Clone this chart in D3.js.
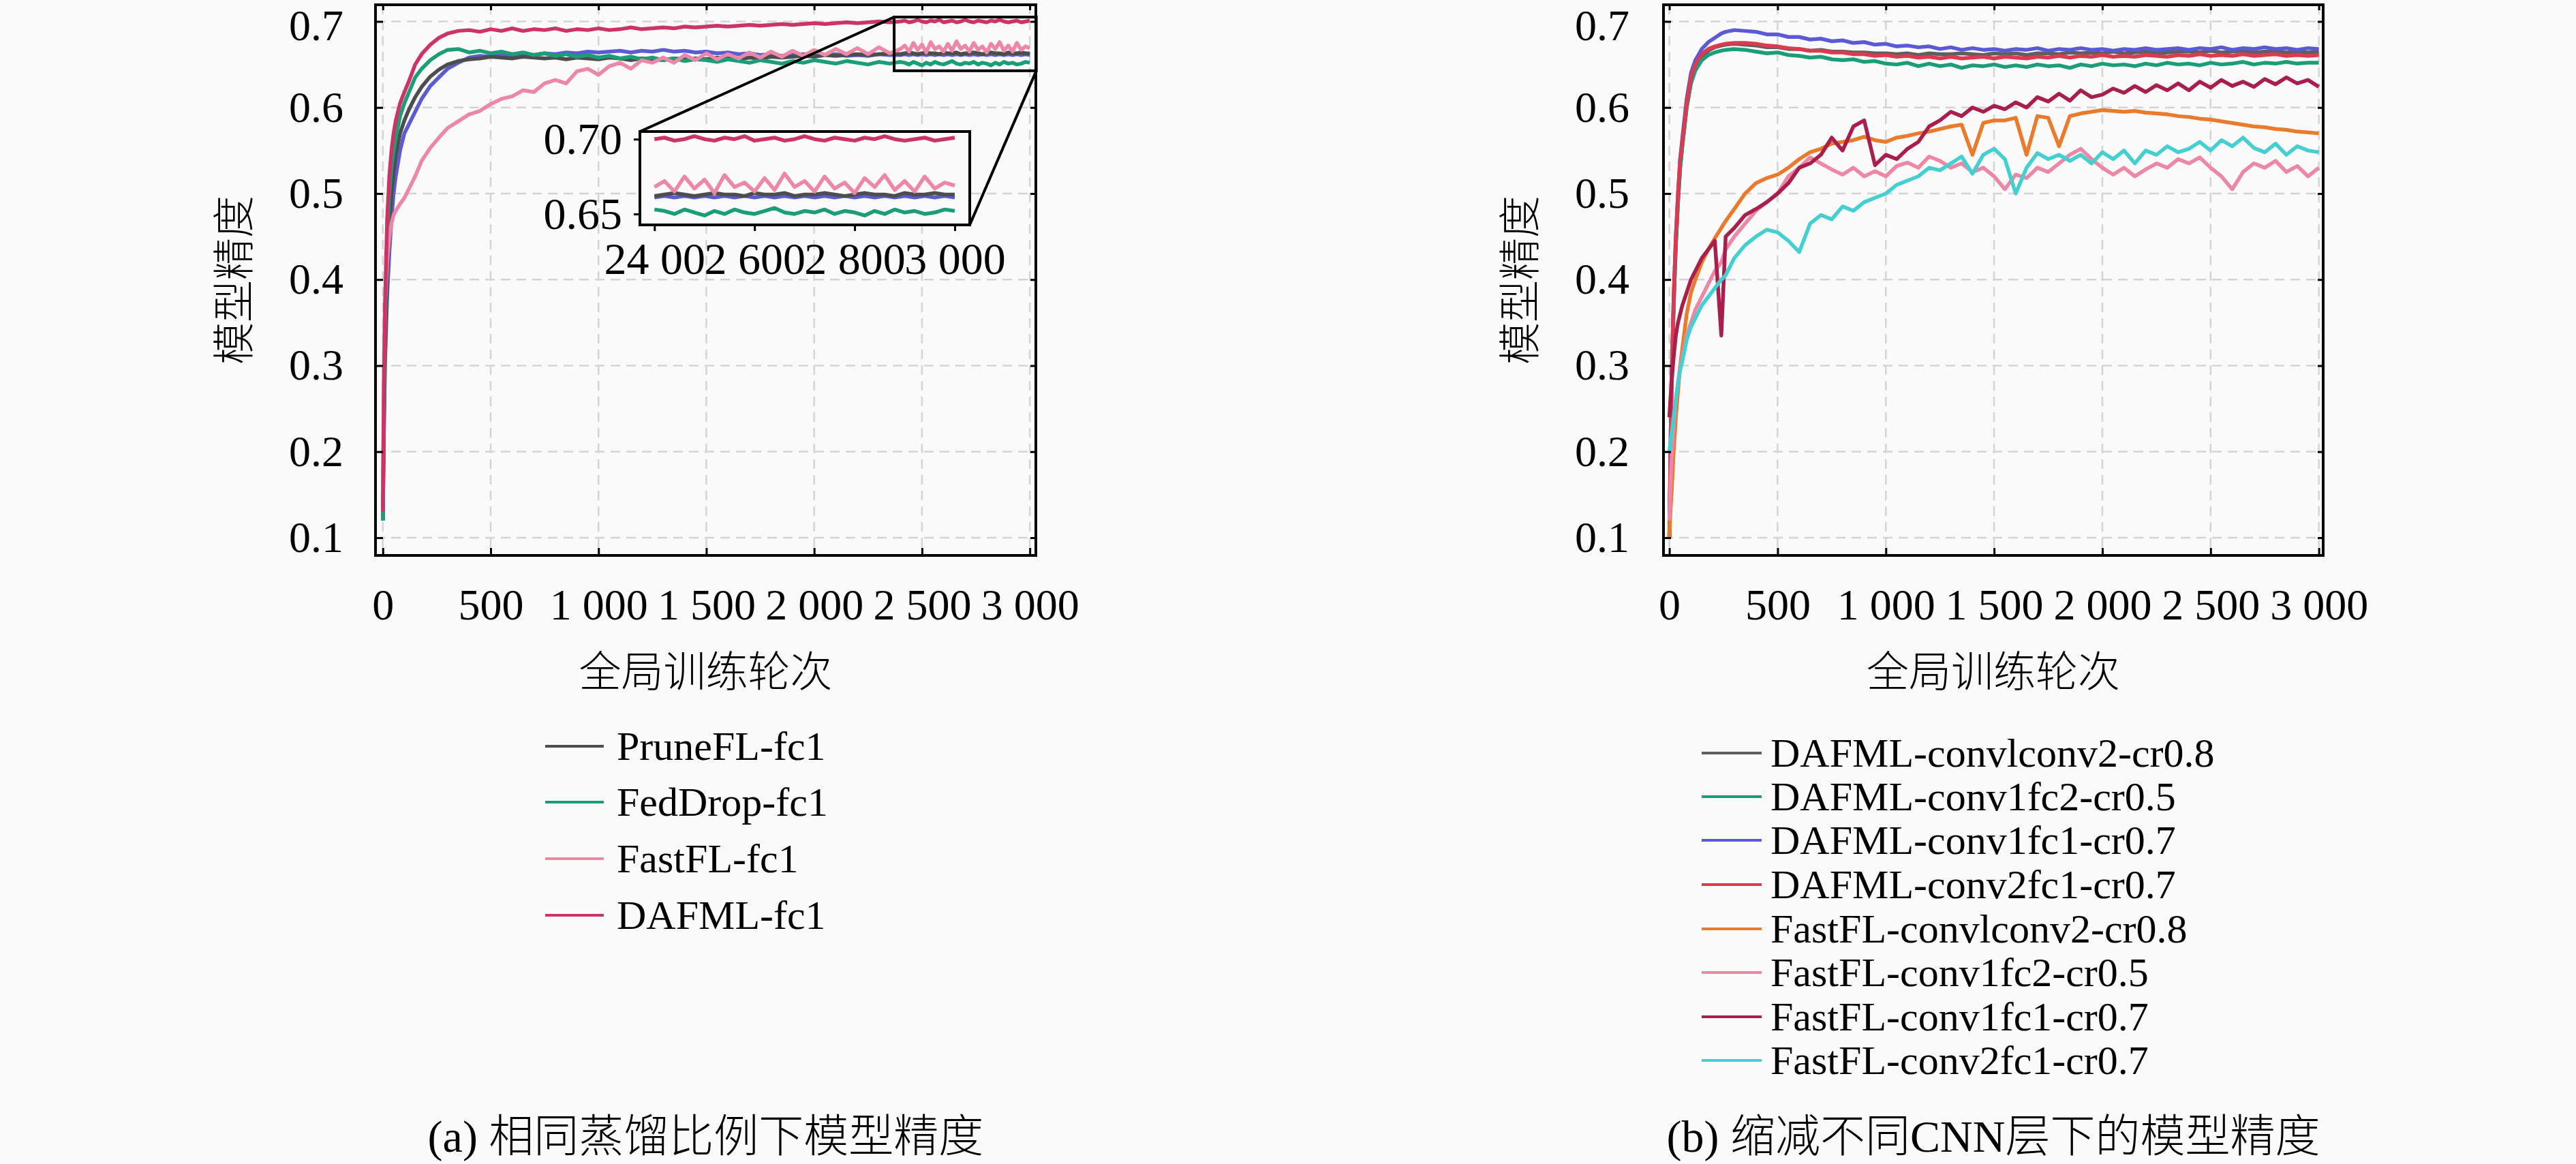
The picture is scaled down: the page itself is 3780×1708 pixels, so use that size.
<!DOCTYPE html>
<html>
<head>
<meta charset="utf-8">
<script src="https://cdn.jsdelivr.net/npm/d3@7"></script>
<style>
  body { margin: 0; background: #fafafa; }
  text { font-family: "Liberation Serif", "Noto Sans CJK SC", serif; fill: #000; }
  .cjk { font-weight: 300; }
  .grid { stroke: #d4d4d4; stroke-width: 2.5; stroke-dasharray: 14 9; }
  .series { fill: none; stroke-width: 5.5; stroke-linejoin: round; }
</style>
</head>
<body>
<svg id="chart" width="3780" height="1708"></svg>
<script>
// ---------- shared ticks ----------
const xTicks = [0, 500, 1000, 1500, 2000, 2500, 3000];
const xTickLabels = ["0", "500", "1 000", "1 500", "2 000", "2 500", "3 000"];
const yTicks = [0.1, 0.2, 0.3, 0.4, 0.5, 0.6, 0.7];
const yTickLabels = ["0.1", "0.2", "0.3", "0.4", "0.5", "0.6", "0.7"];
const insetXTicks = [2400, 2600, 2800, 3000];
const insetXTickLabels = ["24 00", "2 600", "2 800", "3 000"];
const insetYTicks = [0.65, 0.70];
const insetYTickLabels = ["0.65", "0.70"];

// ---------- panel (a): same distillation ratio ----------
const roundsA = [0,5,10,20,30,40,50,60,80,100,120,150,180,220,260,300,350,
  400,450,500,550,600,650,700,750,800,850,900,950,1000,1050,1100,1150,1200,1250,1300,1350,
  1400,1450,1500,1550,1600,1650,1700,1750,1800,1850,1900,1950,2000,2050,2100,2150,2200,2250,2300,2350,2400,
  2420,2440,2460,2480,2500,2520,2540,2560,2580,2600,2620,2640,2660,2680,2700,2720,2740,2760,2780,2800,
  2820,2840,2860,2880,2900,2920,2940,2960,2980,3000];

const pruneFL = [0.12,0.23,0.32,0.41,0.46,0.50,0.525,0.545,0.57,0.585,0.597,0.612,0.624,0.636,0.644,0.65,0.654,
  0.656,0.657,0.659,0.658,0.657,0.659,0.658,0.657,0.658,0.656,0.658,0.657,0.656,0.658,0.657,0.655,0.657,0.656,0.655,0.657,
  0.656,0.657,0.656,0.658,0.657,0.656,0.658,0.657,0.659,0.658,0.659,0.660,0.659,0.661,0.660,0.661,0.662,0.661,0.662,0.663,0.662,
  0.663,0.664,0.663,0.662,0.663,0.664,0.663,0.663,0.662,0.664,0.663,0.663,0.664,0.662,0.663,0.663,0.664,0.663,0.662,0.663,
  0.664,0.663,0.663,0.662,0.664,0.663,0.663,0.664,0.663,0.663];

const fedDrop = [0.12,0.25,0.35,0.45,0.50,0.53,0.55,0.565,0.59,0.605,0.617,0.635,0.645,0.655,0.662,0.667,0.668,
  0.664,0.666,0.663,0.665,0.662,0.664,0.661,0.663,0.660,0.662,0.659,0.661,0.658,0.660,0.657,0.659,0.656,0.658,0.655,0.657,
  0.654,0.656,0.655,0.653,0.656,0.654,0.652,0.655,0.653,0.651,0.654,0.652,0.655,0.653,0.651,0.654,0.652,0.650,0.653,0.651,0.653,
  0.652,0.650,0.653,0.651,0.649,0.652,0.650,0.653,0.651,0.650,0.652,0.654,0.651,0.650,0.652,0.651,0.653,0.650,0.652,0.651,
  0.649,0.652,0.650,0.653,0.651,0.652,0.650,0.651,0.653,0.652];

const fastFL = [0.15,0.30,0.37,0.42,0.45,0.465,0.475,0.48,0.488,0.495,0.505,0.52,0.538,0.553,0.565,0.576,0.584,
  0.592,0.596,0.604,0.61,0.613,0.62,0.618,0.628,0.632,0.628,0.642,0.645,0.638,0.648,0.652,0.645,0.655,0.652,0.658,0.652,
  0.661,0.655,0.663,0.656,0.662,0.657,0.664,0.658,0.665,0.659,0.666,0.660,0.667,0.661,0.668,0.662,0.669,0.662,0.670,0.663,0.668,
  0.672,0.665,0.675,0.667,0.673,0.664,0.676,0.668,0.671,0.665,0.674,0.666,0.677,0.668,0.672,0.665,0.675,0.667,0.671,0.664,
  0.674,0.668,0.676,0.666,0.672,0.665,0.675,0.667,0.671,0.669];

const dafmlFc1 = [0.13,0.27,0.37,0.47,0.52,0.55,0.57,0.585,0.605,0.618,0.63,0.65,0.662,0.673,0.681,0.686,0.689,
  0.690,0.688,0.691,0.689,0.692,0.689,0.691,0.690,0.692,0.689,0.691,0.690,0.692,0.690,0.691,0.693,0.691,0.692,0.693,0.692,
  0.694,0.693,0.694,0.695,0.694,0.695,0.696,0.695,0.696,0.697,0.696,0.697,0.698,0.697,0.698,0.699,0.698,0.699,0.700,0.699,0.700,
  0.701,0.699,0.700,0.702,0.700,0.699,0.701,0.700,0.702,0.699,0.700,0.701,0.699,0.700,0.702,0.700,0.699,0.701,0.700,0.699,
  0.701,0.700,0.702,0.700,0.699,0.700,0.701,0.699,0.700,0.701];

// unlabelled blue run that is visible in panel (a)
const extraBlue = [0.12,0.22,0.30,0.38,0.43,0.47,0.50,0.52,0.55,0.57,0.58,0.595,0.61,0.625,0.635,0.645,0.652,
  0.658,0.660,0.659,0.661,0.660,0.662,0.661,0.663,0.662,0.664,0.663,0.665,0.664,0.665,0.666,0.664,0.666,0.665,0.667,0.665,
  0.666,0.664,0.665,0.663,0.664,0.662,0.663,0.661,0.662,0.660,0.661,0.662,0.660,0.661,0.662,0.660,0.661,0.660,0.662,0.661,0.661,
  0.662,0.661,0.662,0.661,0.662,0.661,0.662,0.661,0.662,0.661,0.662,0.661,0.662,0.661,0.662,0.661,0.662,0.661,0.662,0.661,
  0.662,0.661,0.662,0.661,0.662,0.661,0.662,0.661,0.662,0.661];

const namesA = ["PruneFL-fc1", "FedDrop-fc1", "FastFL-fc1", "DAFML-fc1"];
const colorsA = ["#4d4d4d", "#1b9e77", "#ec87a6", "#cc3466"];

// ---------- panel (b): pruning different CNN layers ----------
const roundsB = [0,5,10,20,30,40,50,60,80,100,120,150,180,210,240,260,300,350,
  400,450,500,550,600,650,700,750,800,850,900,950,1000,1050,1100,1150,1200,1250,1300,1350,
  1400,1450,1500,1550,1600,1650,1700,1750,1800,1850,1900,1950,2000,2050,2100,2150,2200,2250,2300,2350,
  2400,2450,2500,2550,2600,2650,2700,2750,2800,2850,2900,2950,3000];

const dafmlC1C2 = [0.10,0.19,0.27,0.37,0.44,0.49,0.53,0.555,0.60,0.63,0.645,0.658,0.666,0.670,0.672,0.673,0.674,0.673,
  0.672,0.670,0.670,0.668,0.668,0.666,0.667,0.665,0.665,0.664,0.664,0.663,0.663,0.662,0.663,0.661,0.663,0.662,0.662,0.663,
  0.662,0.661,0.663,0.662,0.663,0.661,0.663,0.663,0.662,0.664,0.663,0.664,0.663,0.665,0.663,0.664,0.665,0.663,0.664,0.665,
  0.665,0.664,0.666,0.664,0.665,0.666,0.664,0.665,0.666,0.664,0.665,0.664,0.665];

const dafmlC1F2 = [0.10,0.18,0.27,0.37,0.44,0.49,0.53,0.555,0.60,0.628,0.643,0.655,0.661,0.664,0.666,0.667,0.668,0.667,
  0.665,0.663,0.664,0.661,0.660,0.658,0.659,0.656,0.655,0.656,0.653,0.654,0.651,0.650,0.652,0.648,0.651,0.648,0.650,0.646,
  0.649,0.648,0.650,0.647,0.649,0.647,0.650,0.648,0.649,0.646,0.650,0.648,0.651,0.649,0.650,0.648,0.651,0.649,0.652,0.650,
  0.651,0.649,0.652,0.650,0.651,0.653,0.650,0.652,0.651,0.653,0.651,0.652,0.652];

const dafmlC1F1 = [0.10,0.20,0.28,0.38,0.45,0.50,0.54,0.565,0.61,0.64,0.655,0.668,0.676,0.681,0.686,0.688,0.690,0.689,
  0.688,0.685,0.685,0.682,0.682,0.679,0.680,0.677,0.678,0.675,0.676,0.673,0.674,0.671,0.672,0.670,0.671,0.668,0.670,0.667,
  0.669,0.667,0.668,0.666,0.668,0.667,0.669,0.666,0.668,0.667,0.669,0.667,0.668,0.666,0.668,0.667,0.669,0.667,0.668,0.669,
  0.667,0.669,0.668,0.670,0.667,0.669,0.668,0.670,0.668,0.669,0.667,0.669,0.668];

const dafmlC2F1 = [0.10,0.19,0.28,0.38,0.45,0.50,0.54,0.56,0.605,0.635,0.65,0.662,0.668,0.671,0.673,0.674,0.675,0.675,
  0.674,0.672,0.671,0.669,0.668,0.666,0.666,0.664,0.664,0.662,0.662,0.660,0.661,0.659,0.660,0.658,0.659,0.657,0.659,0.657,
  0.658,0.659,0.657,0.659,0.658,0.657,0.659,0.658,0.660,0.658,0.660,0.659,0.661,0.659,0.660,0.659,0.661,0.660,0.659,0.661,
  0.660,0.662,0.660,0.661,0.660,0.662,0.660,0.661,0.662,0.660,0.661,0.660,0.661];

const fastC1C2 = [0.10,0.13,0.15,0.20,0.24,0.27,0.30,0.32,0.36,0.385,0.40,0.42,0.435,0.448,0.46,0.468,0.482,0.50,
  0.512,0.518,0.522,0.53,0.54,0.548,0.552,0.558,0.56,0.562,0.566,0.562,0.56,0.565,0.567,0.57,0.572,0.575,0.578,0.58,
  0.545,0.582,0.585,0.585,0.588,0.545,0.59,0.588,0.555,0.59,0.593,0.595,0.597,0.596,0.595,0.596,0.594,0.593,0.592,0.59,
  0.589,0.587,0.586,0.584,0.582,0.58,0.578,0.577,0.575,0.574,0.572,0.571,0.570];

const fastC1F2 = [0.12,0.16,0.19,0.23,0.26,0.28,0.30,0.31,0.335,0.35,0.365,0.38,0.395,0.41,0.42,0.435,0.45,0.465,
  0.48,0.49,0.50,0.52,0.53,0.542,0.535,0.528,0.522,0.53,0.52,0.526,0.52,0.532,0.536,0.53,0.543,0.538,0.53,0.535,
  0.525,0.53,0.52,0.505,0.522,0.518,0.53,0.525,0.535,0.545,0.552,0.54,0.53,0.522,0.53,0.52,0.528,0.535,0.53,0.54,
  0.535,0.542,0.53,0.52,0.505,0.525,0.535,0.53,0.538,0.525,0.532,0.52,0.53];

const fastC1F1 = [0.24,0.26,0.28,0.31,0.335,0.35,0.36,0.37,0.385,0.40,0.41,0.425,0.435,0.445,0.335,0.45,0.46,0.475,
  0.482,0.49,0.50,0.512,0.53,0.535,0.545,0.565,0.55,0.578,0.585,0.533,0.545,0.54,0.552,0.56,0.578,0.585,0.595,0.59,
  0.60,0.595,0.602,0.598,0.606,0.60,0.612,0.607,0.616,0.608,0.62,0.612,0.615,0.622,0.617,0.625,0.618,0.626,0.62,0.628,
  0.62,0.63,0.623,0.632,0.625,0.63,0.624,0.633,0.627,0.635,0.628,0.632,0.624];

const fastC2F1 = [0.20,0.21,0.22,0.24,0.26,0.28,0.295,0.305,0.33,0.345,0.355,0.37,0.38,0.39,0.40,0.405,0.425,0.44,
  0.45,0.458,0.455,0.445,0.432,0.465,0.475,0.47,0.485,0.48,0.49,0.495,0.50,0.51,0.515,0.52,0.53,0.527,0.535,0.543,
  0.523,0.545,0.552,0.54,0.50,0.53,0.547,0.54,0.545,0.538,0.545,0.535,0.548,0.54,0.55,0.535,0.55,0.545,0.555,0.548,
  0.552,0.56,0.55,0.562,0.555,0.565,0.553,0.548,0.558,0.545,0.555,0.55,0.548];

const namesB = ["DAFML-convlconv2-cr0.8", "DAFML-conv1fc2-cr0.5", "DAFML-conv1fc1-cr0.7", "DAFML-conv2fc1-cr0.7",
  "FastFL-convlconv2-cr0.8", "FastFL-conv1fc2-cr0.5", "FastFL-conv1fc1-cr0.7", "FastFL-conv2fc1-cr0.7"];
const colorsB = ["#5f5f5f", "#1b9e77", "#5a5ad8", "#dc3a4e", "#ea7a2c", "#ec87a6", "#a81f4c", "#45cfd0"];

const yDomain = [0.0794, 0.7194];

// ---------- drawing ----------
const svg = d3.select("#chart");
svg.append("rect").attr("width", 3780).attr("height", 1708).attr("fill", "#fafafa");

function styleAxis(g, size) {
  g.select(".domain").remove();
  g.attr("font-family", null).attr("font-size", null);
  g.selectAll(".tick line").attr("stroke", "#000").attr("stroke-width", 3);
  g.selectAll(".tick text").style("font-size", `${size}px`);
}

function drawPanel(p) {
  const x = d3.scaleLinear().domain(p.xDomain).range([p.left, p.right]);
  const y = d3.scaleLinear().domain(yDomain).range([p.bottom, p.top]);
  const g = svg.append("g");

  // Dashed grid at every tick.
  g.append("g").selectAll("line").data(yTicks).join("line")
    .attr("class", "grid")
    .attr("x1", p.left).attr("x2", p.right)
    .attr("y1", d => y(d)).attr("y2", d => y(d));
  g.append("g").selectAll("line").data(xTicks).join("line")
    .attr("class", "grid")
    .attr("y1", p.top).attr("y2", p.bottom)
    .attr("x1", d => x(d)).attr("x2", d => x(d));

  // Lines, clipped to the plot box.
  const clipId = `${p.id}-clip`;
  svg.append("clipPath").attr("id", clipId).append("rect")
    .attr("x", p.left).attr("y", p.top)
    .attr("width", p.right - p.left).attr("height", p.bottom - p.top);
  const line = d3.line()
    .x((d, i) => x(p.rounds[i]))
    .y(d => y(d));
  g.append("g").attr("clip-path", `url(#${clipId})`)
    .selectAll("path").data(p.drawOrder).join("path")
    .attr("class", "series")
    .attr("stroke", s => s.color)
    .attr("d", s => line(s.values));

  // Axes: ticks point inwards, mirrored on top and right.
  g.append("g").attr("transform", `translate(0,${p.bottom})`)
    .call(d3.axisBottom(x).tickValues(xTicks).tickFormat((d, i) => xTickLabels[i])
      .tickSize(-11).tickPadding(49))
    .call(a => styleAxis(a, 64));
  g.append("g").attr("transform", `translate(${p.left},0)`)
    .call(d3.axisLeft(y).tickValues(yTicks).tickFormat((d, i) => yTickLabels[i])
      .tickSize(-11).tickPadding(p.yPad))
    .call(a => styleAxis(a, 64))
    // the top label sits right at the page edge; nudge it down a touch
    .call(a => a.selectAll(".tick text").filter(d => d === 0.7).attr("dy", "0.42em"));
  g.append("g").attr("transform", `translate(0,${p.top})`)
    .call(d3.axisTop(x).tickValues(xTicks).tickFormat(() => "").tickSize(-8))
    .call(a => styleAxis(a, 64));
  g.append("g").attr("transform", `translate(${p.right},0)`)
    .call(d3.axisRight(y).tickValues(yTicks).tickFormat(() => "").tickSize(-8))
    .call(a => styleAxis(a, 64));

  g.append("rect")
    .attr("x", p.left).attr("y", p.top)
    .attr("width", p.right - p.left).attr("height", p.bottom - p.top)
    .attr("fill", "none").attr("stroke", "#000").attr("stroke-width", 4);

  // Axis titles.
  g.append("text")
    .attr("class", "cjk")
    .attr("x", (p.left + p.right) / 2).attr("y", 987)
    .attr("text-anchor", "middle").attr("dominant-baseline", "central")
    .style("font-size", "62px")
    .text("全局训练轮次");
  g.append("text")
    .attr("class", "cjk")
    .attr("transform", `translate(${p.yTitleX},${(p.top + p.bottom) / 2}) rotate(-90)`)
    .attr("text-anchor", "middle").attr("dominant-baseline", "central")
    .style("font-size", "62px")
    .text("模型精度");

  // Legend below the plot.
  const leg = g.append("g").selectAll("g").data(p.legend).join("g")
    .attr("transform", (d, i) => `translate(0,${p.legendRows[i]})`);
  leg.append("line")
    .attr("x1", p.legendX).attr("x2", p.legendX + p.legendLen)
    .attr("stroke", d => d.color).attr("stroke-width", 4);
  leg.append("text")
    .attr("x", p.legendTextX).attr("dominant-baseline", "central")
    .style("font-size", `${p.legendFont}px`)
    .text(d => d.name);

  // Sub-caption.
  g.append("text")
    .attr("class", "cjk")
    .attr("x", (p.left + p.right) / 2).attr("y", 1667)
    .attr("text-anchor", "middle").attr("dominant-baseline", "central")
    .style("font-size", "66px")
    .text(p.caption);

  return { x, y };
}

// ----- panel (a) -----
const seriesA = namesA.map((name, i) => ({ name, color: colorsA[i],
  values: [pruneFL, fedDrop, fastFL, dafmlFc1][i] }));
const blueA = { name: "", color: "#5b5bd2", values: extraBlue };

const pa = {
  id: "pa", left: 551, right: 1520, top: 7, bottom: 815,
  xDomain: [-34, 3028], yPad: 47, yTitleX: 345,
  rounds: roundsA,
  drawOrder: [blueA, seriesA[0], seriesA[1], seriesA[2], seriesA[3]],
  legend: seriesA,
  legendX: 800, legendLen: 86, legendTextX: 905, legendFont: 60,
  legendRows: [1095, 1177, 1260, 1343],
  caption: "(a) 相同蒸馏比例下模型精度"
};
const scA = drawPanel(pa);

// Zoomed inset for rounds 2 400 - 3 000.
const inset = { left: 939, right: 1423, top: 193, bottom: 330,
  xDomain: [2371, 3030], yDomain: [0.6427, 0.7051] };
const ix = d3.scaleLinear().domain(inset.xDomain).range([inset.left, inset.right]);
const iy = d3.scaleLinear().domain(inset.yDomain).range([inset.bottom, inset.top]);

// Marker box in the main plot and connector lines.
const mx0 = scA.x(inset.xDomain[0]), mx1 = scA.x(inset.xDomain[1]);
const my0 = scA.y(inset.yDomain[1]), my1 = scA.y(inset.yDomain[0]);
const zoomG = svg.append("g").attr("stroke", "#000").attr("stroke-width", 4).attr("fill", "none");
zoomG.append("rect").attr("x", mx0).attr("y", my0).attr("width", mx1 - mx0).attr("height", my1 - my0);
zoomG.append("line").attr("x1", mx0).attr("y1", my0).attr("x2", inset.left).attr("y2", inset.top);
zoomG.append("line").attr("x1", mx1).attr("y1", my1).attr("x2", inset.right).attr("y2", inset.bottom);

const ig = svg.append("g");
ig.append("rect")
  .attr("x", inset.left).attr("y", inset.top)
  .attr("width", inset.right - inset.left).attr("height", inset.bottom - inset.top)
  .attr("fill", "#fafafa");
svg.append("clipPath").attr("id", "inset-clip").append("rect")
  .attr("x", inset.left).attr("y", inset.top)
  .attr("width", inset.right - inset.left).attr("height", inset.bottom - inset.top);
const insetIdx = roundsA.map((r, i) => i).filter(i => roundsA[i] >= 2400);
const insetLine = d3.line().x(i => ix(roundsA[i]));
ig.append("g").attr("clip-path", "url(#inset-clip)")
  .selectAll("path").data(pa.drawOrder).join("path")
  .attr("class", "series")
  .attr("stroke", s => s.color)
  .attr("d", s => insetLine.y(i => iy(s.values[i]))(insetIdx));
ig.append("g").attr("transform", `translate(0,${inset.bottom})`)
  .call(d3.axisBottom(ix).tickValues(insetXTicks).tickFormat((d, i) => insetXTickLabels[i])
    .tickSize(9).tickPadding(16))
  .call(a => styleAxis(a, 66));
ig.append("g").attr("transform", `translate(${inset.left},0)`)
  .call(d3.axisLeft(iy).tickValues(insetYTicks).tickFormat((d, i) => insetYTickLabels[i])
    .tickSize(9).tickPadding(17))
  .call(a => styleAxis(a, 66));
ig.append("rect")
  .attr("x", inset.left).attr("y", inset.top)
  .attr("width", inset.right - inset.left).attr("height", inset.bottom - inset.top)
  .attr("fill", "none").attr("stroke", "#000").attr("stroke-width", 4);

// ----- panel (b) -----
const seriesB = namesB.map((name, i) => ({ name, color: colorsB[i],
  values: [dafmlC1C2, dafmlC1F2, dafmlC1F1, dafmlC2F1, fastC1C2, fastC1F2, fastC1F1, fastC2F1][i] }));

drawPanel({
  id: "pb", left: 2441, right: 3409, top: 7, bottom: 815,
  xDomain: [-27, 3020], yPad: 50, yTitleX: 2232,
  rounds: roundsB,
  drawOrder: seriesB,
  legend: seriesB,
  legendX: 2497, legendLen: 88, legendTextX: 2598, legendFont: 60,
  legendRows: [1105, 1169, 1233, 1298, 1363, 1427, 1492, 1556],
  caption: "(b) 缩减不同CNN层下的模型精度"
});
</script>
</body>
</html>
